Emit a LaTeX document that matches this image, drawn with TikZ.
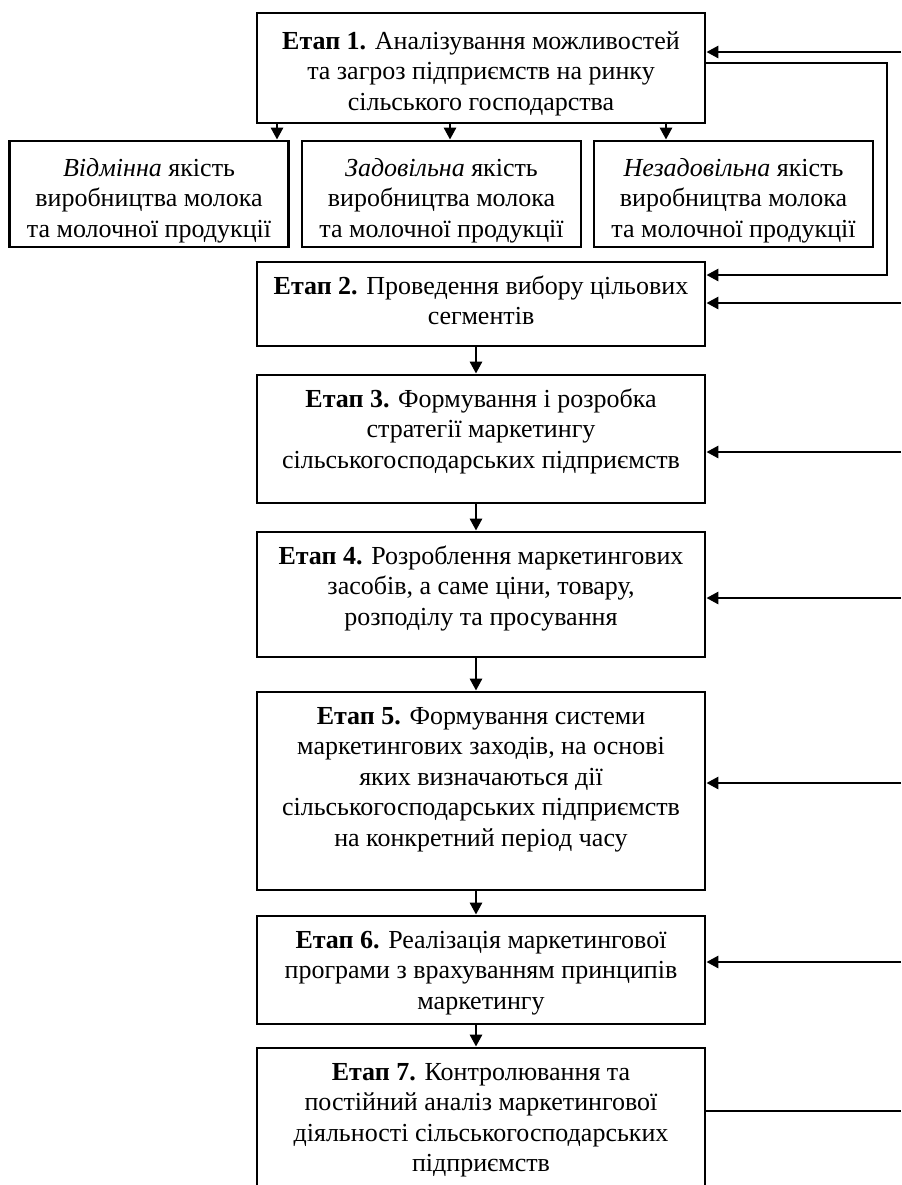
\documentclass[tikz,border=0pt]{standalone}
\usepackage{fontspec}
\setmainfont{Liberation Serif}
\usepackage{tikz}
\usetikzlibrary{arrows.meta}

\newcommand{\stagetext}[3][10.7pt]{\parbox[c][#2][t]{224pt}{\centering\rule{0pt}{#1}#3}}
\newcommand{\qualtext}[1]{\parbox[c][42pt][t]{139.5pt}{\centering\rule{0pt}{12.2pt}#1}}

\begin{document}
\begin{tikzpicture}[x=0.5pt,y=-0.5pt]
					\tikzstyle{stage}=[draw=black,line width=1.4pt,inner xsep=0pt,inner ysep=5.5pt,font=\fontsize{13}{15.25}\selectfont]
					\tikzstyle{arr}=[line width=1.4pt,-{Triangle[length=6pt,width=6pt]}]
					\useasboundingbox (0,0) rectangle (901,1185);
					\clip (0,0) rectangle (901,1185);
					\node[stage](e1) at (481,68){\stagetext[12.5pt]{44pt}{\textbf{Етап 1.} Аналізування можливостей\\ та загроз підприємств на ринку\\ сільського господарства}};
					\node[stage](qa) at (149,194){\qualtext{\textit{Відмінна} якість\\ виробництва молока\\ та молочної продукції}};
					\node[stage](qb) at (441.5,194){\qualtext{\textit{Задовільна} якість\\ виробництва молока\\ та молочної продукції}};
					\node[stage](qc) at (733.5,194){\qualtext{\textit{Незадовільна} якість\\ виробництва молока\\ та молочної продукції}};
					\node[stage](e2) at (481,304){\stagetext{31pt}{\textbf{Етап 2.} Проведення вибору цільових\\ сегментів}};
					\node[stage](e3) at (481,439){\stagetext{53pt}{\textbf{Етап 3.} Формування і розробка\\ стратегії маркетингу\\ сільськогосподарських підприємств}};
					\node[stage](e4) at (481,594.5){\stagetext{51.5pt}{\textbf{Етап 4.} Розроблення маркетингових\\ засобів, а саме ціни, товару,\\ розподілу та просування}};
					\node[stage](e5) at (481,791){\stagetext{88pt}{\textbf{Етап 5.} Формування системи\\ маркетингових заходів, на основі\\ яких визначаються дії\\ сільськогосподарських підприємств\\ на конкретний період часу}};
					\node[stage](e6) at (481,970){\stagetext{43pt}{\textbf{Етап 6.} Реалізація маркетингової\\ програми з врахуванням принципів\\ маркетингу}};
					\node[stage](e7) at (481,1124){\stagetext{65pt}{\textbf{Етап 7.} Контролювання та\\ постійний аналіз маркетингової\\ діяльності сільськогосподарських\\ підприємств}};
					\coordinate (xa) at (277,0);
					\coordinate (xb) at (450,0);
					\coordinate (xc) at (666,0);
					\coordinate (xm) at (476,0);
					\coordinate (r1) at (901,52);
					\coordinate (r2) at (901,303);
					\coordinate (r3) at (901,452);
					\coordinate (r4) at (901,598);
					\coordinate (r5) at (901,783);
					\coordinate (r6) at (901,962);
					\coordinate (r7) at (901,1111);
					\coordinate (b1) at (887,63);
					\coordinate (b2) at (887,275);
					\draw[arr] (e1.south -| xa) -- (qa.north -| xa);
					\draw[arr] (e1.south -| xb) -- (qb.north -| xb);
					\draw[arr] (e1.south -| xc) -- (qc.north -| xc);
					\draw[arr] (e2.south -| xm) -- (e3.north -| xm);
					\draw[arr] (e3.south -| xm) -- (e4.north -| xm);
					\draw[arr] (e4.south -| xm) -- (e5.north -| xm);
					\draw[arr] (e5.south -| xm) -- (e6.north -| xm);
					\draw[arr] (e6.south -| xm) -- (e7.north -| xm);
					\draw[arr] (e1.east |- b1) -- (b1) -- (b2) -- (e2.east |- b2);
					\draw[arr] (r1) -- (e1.east |- r1);
					\draw[arr] (r2) -- (e2.east |- r2);
					\draw[arr] (r3) -- (e3.east |- r3);
					\draw[arr] (r4) -- (e4.east |- r4);
					\draw[arr] (r5) -- (e5.east |- r5);
					\draw[arr] (r6) -- (e6.east |- r6);
					\draw[line width=1.4pt] (e7.east |- r7) -- (r7);
				\end{tikzpicture}
\end{document}
